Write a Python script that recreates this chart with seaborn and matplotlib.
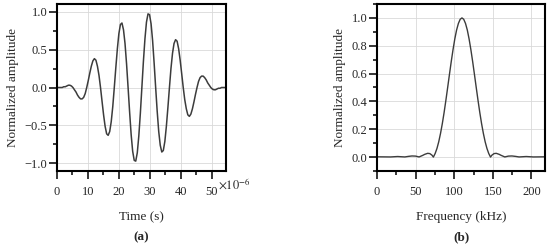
import matplotlib
matplotlib.use("Agg")
import matplotlib.pyplot as plt
import matplotlib.ticker as mticker
import seaborn as sns

# tone burst, time in microseconds
time_us = [0.00, 0.70, 1.19, 1.69, 2.18, 2.68, 3.17, 3.67, 4.16, 4.66,
           5.15, 5.64, 6.14, 6.63, 7.13, 7.62, 8.12, 8.61, 9.11,
           9.60, 10.09, 10.59, 11.08, 11.58, 12.07, 12.57, 13.06, 13.56,
           14.05, 14.54, 15.04, 15.53, 16.03, 16.52, 17.02, 17.51, 18.01,
           18.50, 18.99, 19.49, 19.98, 20.48, 20.97, 21.47, 21.96, 22.46,
           22.95, 23.44, 23.94, 24.43, 24.93, 25.42, 25.92, 26.41, 26.91,
           27.40, 27.89, 28.39, 28.88, 29.38, 29.87, 30.37, 30.86, 31.36,
           31.85, 32.34, 32.84, 33.33, 33.83, 34.32, 34.82, 35.31, 35.81,
           36.30, 36.79, 37.29, 37.78, 38.28, 38.77, 39.27, 39.76, 40.26,
           40.75, 41.24, 41.74, 42.23, 42.73, 43.22, 43.72, 44.21, 44.71,
           45.20, 45.69, 46.19, 46.68, 47.18, 47.67, 48.17, 48.66, 49.16,
           49.65, 50.14, 50.64, 51.13, 51.63, 52.12, 52.62, 53.11, 53.61,
           54.10, 54.50]
amplitude = [0.00, 0.00, 0.00, 0.00, 0.01, 0.01, 0.02, 0.03, 0.03, 0.02,
             0.00, -0.03, -0.06, -0.10, -0.13, -0.15, -0.15, -0.13, -0.08,
             0.00, 0.09, 0.19, 0.28, 0.35, 0.38, 0.36, 0.28, 0.16,
             0.00, -0.18, -0.36, -0.51, -0.61, -0.63, -0.58, -0.45, -0.25,
             0.00, 0.26, 0.51, 0.71, 0.83, 0.85, 0.76, 0.58, 0.31,
             0.00, -0.32, -0.62, -0.84, -0.96, -0.97, -0.86, -0.64, -0.34,
             0.00, 0.34, 0.64, 0.86, 0.97, 0.96, 0.84, 0.62, 0.32,
             0.00, -0.31, -0.58, -0.76, -0.85, -0.83, -0.71, -0.51, -0.26,
             0.00, 0.25, 0.45, 0.58, 0.63, 0.61, 0.51, 0.36, 0.18,
             0.00, -0.16, -0.28, -0.36, -0.38, -0.35, -0.28, -0.19, -0.09,
             0.00, 0.08, 0.13, 0.15, 0.15, 0.13, 0.10, 0.06, 0.03,
             0.00, -0.02, -0.03, -0.03, -0.02, -0.01, -0.01, 0.00, 0.00,
             0.00, 0.00]

# spectrum (panel b)
freq_khz = [0, 17.5, 26.75, 36.0, 40.6, 45.25, 49.9, 54.5, 59.1, 61.9,
            65.6, 68.4, 71.15, 73.0, 75.31, 77.63, 79.94, 82.25, 84.56, 86.88,
            89.19, 91.5, 93.81, 96.13, 98.44, 100.75, 103.06, 105.38, 107.69, 110.0,
            112.31, 114.63, 116.94, 119.25, 121.56, 123.88, 126.19, 128.5, 130.81, 133.13,
            135.44, 137.75, 140.06, 142.38, 144.69, 147.0, 148.85, 151.6, 154.4, 158.1,
            160.9, 165.5, 170.1, 174.75, 179.4, 184.0, 193.25, 202.5, 218.0]
spectrum = [0.002, 0.001, 0.004, 0.001, 0.005, 0.008, 0.007, 0.001, 0.012, 0.020,
            0.027, 0.025, 0.014, 0.000, 0.026, 0.062, 0.110, 0.170, 0.240, 0.320,
            0.408, 0.500, 0.594, 0.686, 0.772, 0.849, 0.913, 0.960, 0.990, 1.000,
            0.990, 0.960, 0.913, 0.849, 0.772, 0.686, 0.594, 0.500, 0.408, 0.320,
            0.240, 0.170, 0.110, 0.062, 0.026, 0.000, 0.014, 0.025, 0.027, 0.020,
            0.012, 0.001, 0.007, 0.008, 0.005, 0.001, 0.004, 0.001, 0.002]

time_s = [t * 1e-6 for t in time_us]

sns.set_theme(style="whitegrid")
plt.rcParams['font.family'] = ['Liberation Serif', 'DejaVu Serif']
plt.rcParams['mathtext.fontset'] = 'stix'

line_col = '#3c3c3c'
grid_col = '#d9d9d9'

fig = plt.figure(figsize=(5.5, 2.5), dpi=100)
ax1 = fig.add_axes([0.1036, 0.316, 0.307, 0.668])
ax2 = fig.add_axes([0.6855, 0.316, 0.306, 0.668])

sns.lineplot(x=time_s, y=amplitude, ax=ax1, color=line_col, linewidth=1.1)
sns.lineplot(x=freq_khz, y=spectrum, ax=ax2, color=line_col, linewidth=1.0)

ax1.set_xlim(0, 54.5e-6)
ax1.set_ylim(-1.1, 1.1)
ax1.xaxis.set_major_locator(mticker.MultipleLocator(10e-6))
ax1.xaxis.set_minor_locator(mticker.MultipleLocator(5e-6))
ax1.xaxis.set_major_formatter(mticker.FuncFormatter(lambda v, p: f"{v * 1e6:.0f}"))
ax1.yaxis.set_major_locator(mticker.MultipleLocator(0.5))
ax1.yaxis.set_minor_locator(mticker.MultipleLocator(0.25))
ax1.set_xlabel('Time (s)', fontsize=9.5, labelpad=10)
ax1.text(0.955, -0.085, r'$\times10^{-6}$', transform=ax1.transAxes,
         ha='left', va='center', fontsize=9)

ax2.set_xlim(0, 218)
ax2.set_ylim(-0.1, 1.1)
ax2.xaxis.set_major_locator(mticker.MultipleLocator(50))
ax2.xaxis.set_minor_locator(mticker.MultipleLocator(25))
ax2.yaxis.set_major_locator(mticker.MultipleLocator(0.2))
ax2.yaxis.set_minor_locator(mticker.MultipleLocator(0.1))
ax2.yaxis.set_major_formatter(mticker.FormatStrFormatter('%.1f'))
ax2.set_xlabel('Frequency (kHz)', fontsize=9.5, labelpad=10)

for ax in (ax1, ax2):
    ax.set_facecolor('white')
    ax.grid(True, which='major', color=grid_col, linewidth=0.6)
    ax.grid(False, which='minor')
    for sp in ax.spines.values():
        sp.set_color('black')
        sp.set_linewidth(1.5)
    ax.tick_params(which='major', direction='out', length=5.5, width=1.1,
                   color='black', labelsize=9, bottom=True, left=True)
    ax.tick_params(which='minor', direction='out', length=3, width=1.1,
                   color='black', bottom=True, left=True)
    ax.tick_params(axis='x', which='major', pad=5)
    ax.tick_params(axis='y', which='major', pad=1.5)
    ax.set_ylabel('Normalized amplitude', fontsize=9.5, labelpad=4)

fig.text(0.2573, 0.05, '(a)', ha='center', va='center', fontsize=9.5, fontweight='bold')
fig.text(0.8385, 0.05, '(b)', ha='center', va='center', fontsize=9.5, fontweight='bold')

fig.savefig('out.png', dpi=100)
